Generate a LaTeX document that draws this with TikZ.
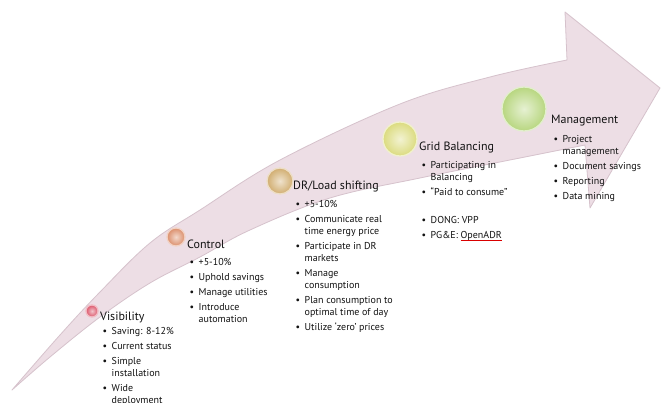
\documentclass[tikz,border=0pt]{standalone}
\usepackage{fontspec}
\setmainfont{PT Sans}
\definecolor{arrowpink}{rgb}{0.93,0.87,0.90}
\definecolor{arrowedge}{rgb}{0.84,0.76,0.80}
\definecolor{txt}{rgb}{0.07,0.07,0.07}
\definecolor{visc}{rgb}{0.86,0.34,0.42}
\definecolor{conc}{rgb}{0.86,0.56,0.42}
\definecolor{drc}{rgb}{0.82,0.68,0.44}
\definecolor{gridc}{rgb}{0.86,0.86,0.50}
\definecolor{mgmtc}{rgb}{0.72,0.84,0.50}
\newcommand{\blist}[1]{\begin{tabular}{@{}l@{\hspace{4.5pt}}l@{}}#1\end{tabular}}
\newcommand{\bul}{\textbullet}
\newcommand{\gap}{\\[3pt]}
\newcommand{\redul}[1]{\setbox0\hbox{#1}\rlap{\textcolor{red!85!black}{\rule[-2.2pt]{\wd0}{0.5pt}}}\box0}
\begin{document}
\begin{tikzpicture}[x=1pt,y=-1pt,
  titletext/.style={anchor=west, inner sep=0pt, font=\fontsize{12}{14}\selectfont, text=txt},
  listtext/.style={anchor=north west, inner sep=0pt, font=\fontsize{10}{12}\selectfont, text=txt},
  sphere/.style={circle, inner sep=0pt, draw=#1!40!white, line width=1.3pt, inner color=#1!35!white, outer color=#1},
  arrowbody/.style={fill=arrowpink, draw=arrowedge, line width=0.8pt, line join=round}
]
\useasboundingbox (0,0) rectangle (662,403);
\fill[white] (0,0) rectangle (662,403);

% curved arrow
\path[arrowbody] plot[smooth, tension=0.6] coordinates {(12,390) (60,335) (100,292) (150,243) (200,210) (280,160) (400,104) (490,77) (567,60)}
  -- (565,12) -- (660,88) -- (590,208) -- (585,145)
  -- plot[smooth, tension=0.6] coordinates {(585,145) (520,158) (420,178) (330,198) (250,230) (200,257) (150,283) (100,317) (50,357) (12,390)} -- cycle;

% spheres
\node[sphere=visc, minimum size=12pt] (s1) at (92,311) {};
\node[sphere=conc, minimum size=18pt] (s2) at (176,237) {};
\node[sphere=drc, minimum size=26pt] (s3) at (280,181) {};
\node[sphere=gridc, minimum size=34pt] (s4) at (400,139) {};
\node[sphere=mgmtc, minimum size=44pt] (s5) at (524,109) {};

% titles
\node[titletext] (t1) at (100,317) {Visibility};
\node[titletext] (t2) at (187,244) {Control};
\node[titletext] (t3) at (293,187) {DR/Load shifting};
\node[titletext] (t4) at (419,148) {Grid Balancing};
\node[titletext] (t5) at (551,121) {Management};

% lists
\node[listtext] (l1) at (102.5,325.5) {\blist{
\bul & Saving: 8-12\% \gap
\bul & Current status \gap
\bul & Simple \\
     & installation \gap
\bul & Wide \\
     & deployment}};
\node[listtext] (l2) at (189.5,257) {\blist{
\bul & +5-10\% \gap
\bul & Uphold savings \gap
\bul & Manage utilities \gap
\bul & Introduce \\
     & automation}};
\node[listtext] (l3) at (295.5,199) {\blist{
\bul & +5-10\% \gap
\bul & Communicate real \\
     & time energy price \gap
\bul & Participate in DR \\
     & markets \gap
\bul & Manage \\
     & consumption \gap
\bul & Plan consumption to \\
     & optimal time of day \gap
\bul & Utilize ‘zero’ prices}};
\node[listtext] (l4) at (421.5,160) {\blist{
\bul & Participating in \\
     & Balancing \gap
\bul & ``Paid to consume'' \\[16pt]
\bul & DONG: VPP \gap
\bul & PG\&E: \redul{OpenADR}}};
\node[listtext] (l5) at (553.5,134) {\blist{
\bul & Project \\
     & management \gap
\bul & Document savings \gap
\bul & Reporting \gap
\bul & Data mining}};
\end{tikzpicture}
\end{document}
